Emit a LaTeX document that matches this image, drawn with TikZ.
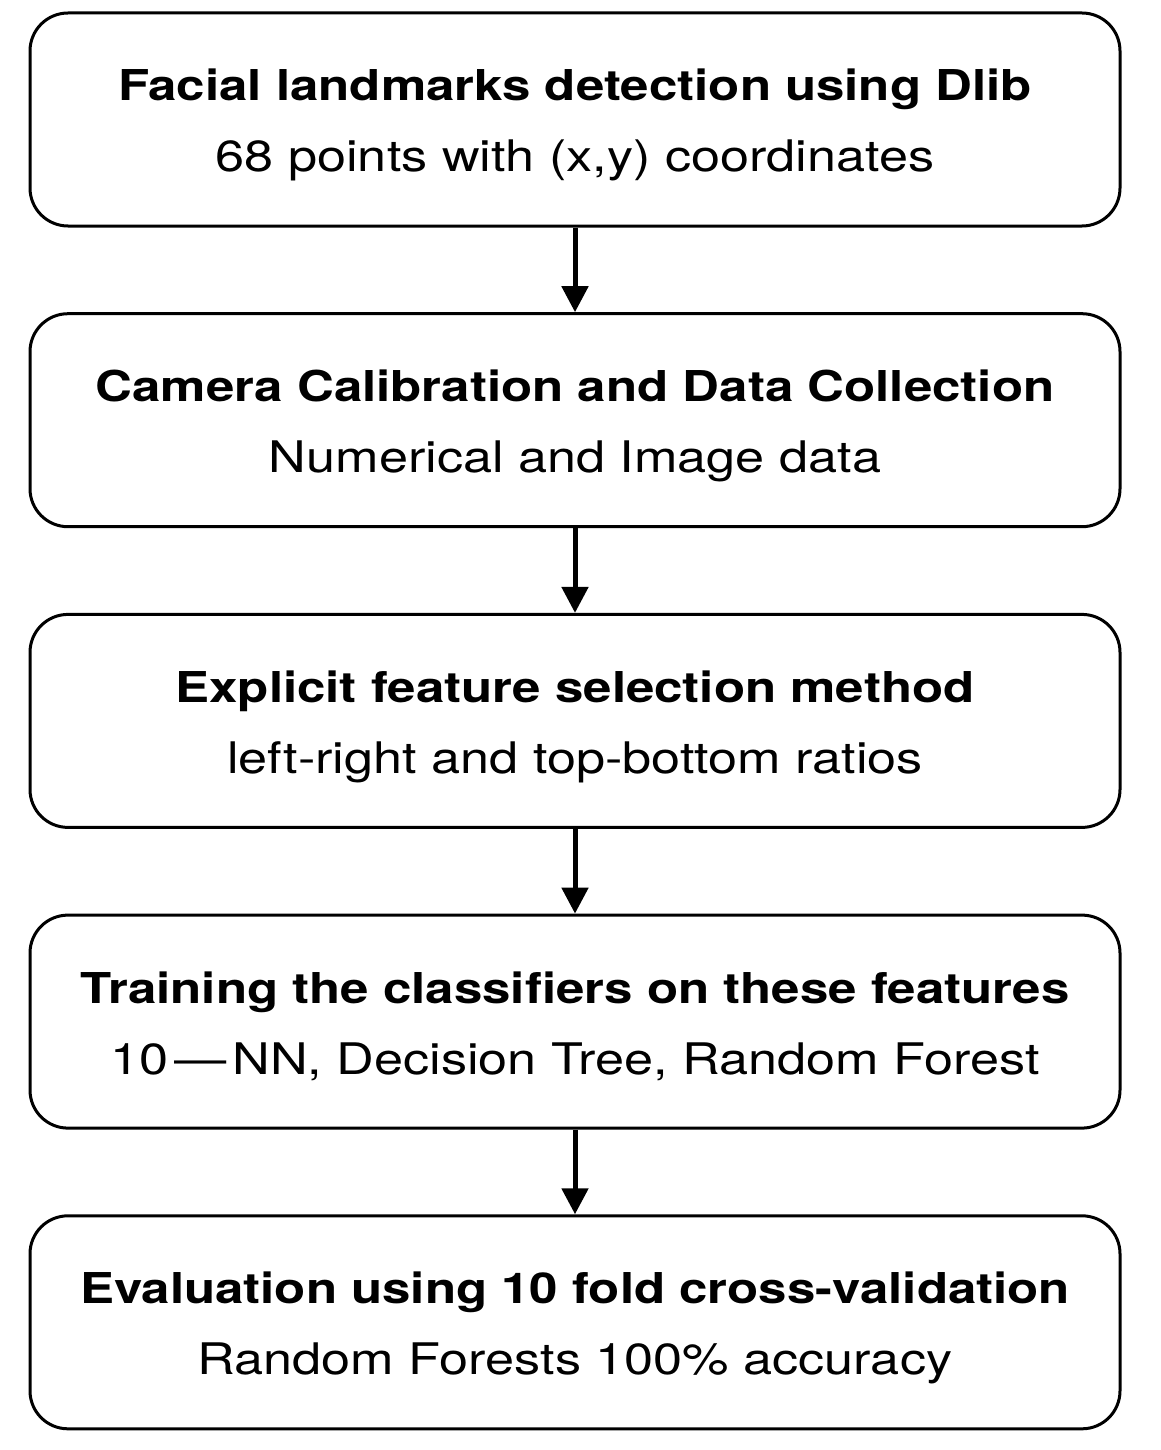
\documentclass[tikz,border=0pt]{standalone}
\usepackage{fontspec}
\setmainfont{TeX Gyre Heros}[FakeStretch=1.2]
\usetikzlibrary{arrows.meta}
\begin{document}
\begin{tikzpicture}[x=1pt,y=-1pt,
  stepbox/.style={draw=black, line width=3pt, rounded corners=38pt, minimum width=1090pt, minimum height=213pt, inner sep=0pt, align=center},
  ttl/.style={font=\fontsize{42.5}{46}\selectfont\bfseries, anchor=base, inner sep=0pt},
  sub/.style={font=\fontsize{43.5}{46}\selectfont, anchor=base, inner sep=0pt},
  conn/.style={line width=5pt, -{Triangle[width=26pt,length=26pt]}}]
\useasboundingbox (0,0) rectangle (1160,1450);
\foreach \n/\y in {a/119.5, b/420.2, c/720.9, d/1021.6, e/1322.3}{
  \node[stepbox] (\n) at (575,\y) {};
}
\node[ttl] (ta) at ([yshift=18.5pt]a.center) {Facial landmarks detection using Dlib};
\node[sub] (sa) at ([yshift=-52.5pt]a.center) {68 points with (x,y) coordinates};
\node[ttl] (tb) at ([yshift=18.5pt]b.center) {Camera Calibration and Data Collection};
\node[sub] (sb) at ([yshift=-52.5pt]b.center) {Numerical and Image data};
\node[ttl] (tc) at ([yshift=18.5pt]c.center) {Explicit feature selection method};
\node[sub] (sc) at ([yshift=-52.5pt]c.center) {left-right and top-bottom ratios};
\node[ttl] (td) at ([yshift=18.5pt]d.center) {Training the classifiers on these features};
\node[sub] (sd) at ([yshift=-52.5pt]d.center) {10\hspace{6pt}—\hspace{6pt}NN, Decision Tree, Random Forest};
\node[ttl] (te) at ([yshift=18.5pt]e.center) {Evaluation using 10 fold cross-validation};
\node[sub] (se) at ([yshift=-52.5pt]e.center) {Random Forests 100\% accuracy};
\draw[conn] (a.south) -- (b.north);
\draw[conn] (b.south) -- (c.north);
\draw[conn] (c.south) -- (d.north);
\draw[conn] (d.south) -- (e.north);
\end{tikzpicture}
\end{document}
